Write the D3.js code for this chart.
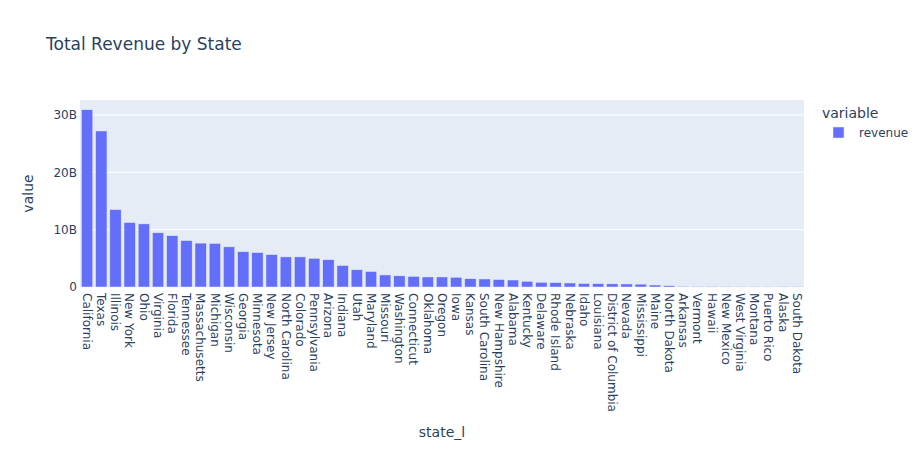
<!DOCTYPE html>
<html><head><meta charset="utf-8">
<script src="https://cdn.jsdelivr.net/npm/d3@7"></script>
<style>body{margin:0;background:#fff}svg text{font-family:"DejaVu Sans",Verdana,sans-serif;fill:#2a3f5f}</style>
</head><body><svg id="c" width="924" height="450"></svg>
<script>
const states = ["California","Texas","Illinois","New York","Ohio","Virginia","Florida","Tennessee","Massachusetts","Michigan","Wisconsin","Georgia","Minnesota","New Jersey","North Carolina","Colorado","Pennsylvania","Arizona","Indiana","Utah","Maryland","Missouri","Washington","Connecticut","Oklahoma","Oregon","Iowa","Kansas","South Carolina","New Hampshire","Alabama","Kentucky","Delaware","Rhode Island","Nebraska","Idaho","Louisiana","District of Columbia","Nevada","Mississippi","Maine","North Dakota","Arkansas","Vermont","Hawaii","New Mexico","West Virginia","Montana","Puerto Rico","Alaska","South Dakota"];
const revenueBillions = [30.9,27.2,13.5,11.25,11.0,9.45,8.95,8.1,7.65,7.6,7.0,6.15,6.0,5.65,5.25,5.25,5.0,4.75,3.75,3.0,2.7,2.1,1.95,1.85,1.75,1.75,1.7,1.45,1.4,1.3,1.22,1.0,0.82,0.76,0.7,0.6,0.58,0.55,0.53,0.5,0.35,0.22,0.12,0.1,0.09,0.08,0.07,0.06,0.05,0.04,0.03];
const yTicks = [0, 10e9, 20e9, 30e9];
const yTickLabels = ["0","10B","20B","30B"];
const seriesName = "revenue";
const legendTitle = "variable";

const svg = d3.select("#c");
const L = 80, R = 804, T = 100, B = 287;
const data = states.map((s,i)=>({state:s, value:revenueBillions[i]*1e9}));
const x = d3.scaleBand().domain(states).range([L,R]).paddingInner(0.2).paddingOuter(0.1);
const y = d3.scaleLinear().domain([0, d3.max(data,d=>d.value)*1.055]).range([B,T]);

svg.append("rect").attr("x",L).attr("y",T).attr("width",R-L).attr("height",B-T).attr("fill","#E5ECF6");
svg.append("g").selectAll("line").data(yTicks.slice(1)).join("line")
  .attr("x1",L).attr("x2",R).attr("y1",d=>y(d)).attr("y2",d=>y(d)).attr("stroke","#fff").attr("stroke-width",1);

svg.append("g").selectAll("rect").data(data).join("rect")
  .attr("x",d=>x(d.state)).attr("width",x.bandwidth())
  .attr("y",d=>y(d.value)).attr("height",d=>B-y(d.value))
  .attr("fill","#636efa").attr("stroke","#E5ECF6").attr("stroke-width",0.5);

// y axis labels
const ya = svg.append("g").attr("transform",`translate(${L},0)`)
  .call(d3.axisLeft(y).tickValues(yTicks).tickFormat((d,i)=>yTickLabels[i]).tickSize(0).tickPadding(3));
ya.select(".domain").remove();
ya.selectAll("text").attr("font-size",12).style("font-family",null).attr("fill",null);

// x axis labels
svg.append("g").selectAll("text").data(states).join("text")
  .attr("transform",d=>`translate(${x(d)+x.bandwidth()/2},293) rotate(90)`)
  .attr("dy","0.35em").attr("text-anchor","start").attr("font-size",12).text(d=>d);

svg.append("text").attr("x",46).attr("y",50).attr("font-size",17).text("Total Revenue by State");
svg.append("text").attr("x",(L+R)/2).attr("y",437).attr("text-anchor","middle").attr("font-size",14).text("state_l");
svg.append("text").attr("transform",`translate(33,${(T+B)/2}) rotate(-90)`).attr("text-anchor","middle").attr("font-size",14).text("value");

// legend
svg.append("text").attr("x",822).attr("y",118).attr("font-size",14).text(legendTitle);
svg.append("rect").attr("x",833).attr("y",127).attr("width",11).attr("height",11).attr("fill","#636efa").attr("stroke","#E5ECF6").attr("stroke-width",0.5);
svg.append("text").attr("x",859).attr("y",137).attr("font-size",12).text(seriesName);
</script></body></html>
